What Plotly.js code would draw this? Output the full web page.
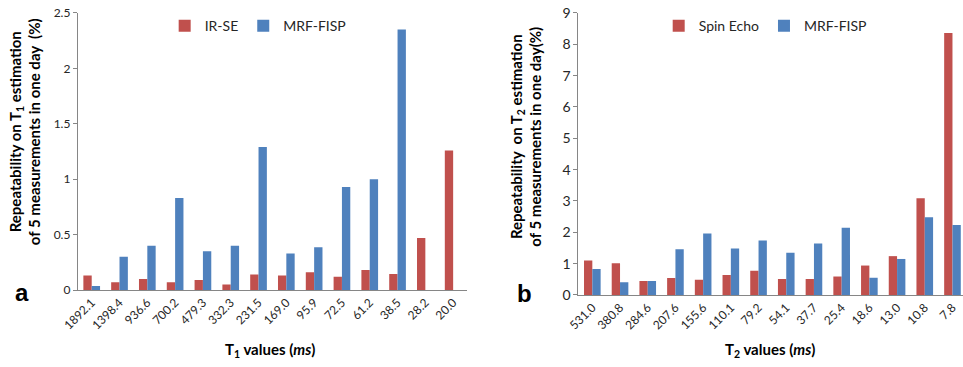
<!DOCTYPE html>
<html><head><meta charset="utf-8">
<script src="https://cdn.plot.ly/plotly-3.0.1.min.js"></script>
<style>html,body{margin:0;padding:0;background:#fff}#chart{width:963px;height:367px}</style>
</head><body><div id="chart"></div>
<script>
// Panel a: T1
const t1Labels = ["1892.1","1398.4","936.6","700.2","479.3","332.3","231.5","169.0","95.9","72.5","61.2","38.5","28.2","20.0"];
const irse = [0.13,0.07,0.10,0.07,0.09,0.05,0.14,0.13,0.16,0.12,0.18,0.145,0.47,1.26];
const mrfT1 = [0.036,0.30,0.40,0.83,0.35,0.40,1.29,0.33,0.385,0.93,1.00,2.35,0,0];
// Panel b: T2
const t2Labels = ["531.0","380.8","284.6","207.6","155.6","110.1","79.2","54.1","37.7","25.4","18.6","13.0","10.8","7.8"];
const spinEcho = [1.10,1.01,0.45,0.54,0.49,0.64,0.77,0.51,0.51,0.59,0.94,1.24,3.09,8.36];
const mrfT2 = [0.83,0.41,0.45,1.46,1.96,1.48,1.74,1.35,1.64,2.15,0.55,1.15,2.48,2.23];

const RED = "#C0504D", BLUE = "#4F81BD";
const FONT = "Lato, 'Liberation Sans', sans-serif";

const traces = [
  {type:"bar", x:t1Labels, y:irse, name:"IR-SE", marker:{color:RED}, xaxis:"x", yaxis:"y", legend:"legend"},
  {type:"bar", x:t1Labels, y:mrfT1, name:"MRF-FISP", marker:{color:BLUE}, xaxis:"x", yaxis:"y", legend:"legend"},
  {type:"bar", x:t2Labels, y:spinEcho, name:"Spin Echo", marker:{color:RED}, xaxis:"x2", yaxis:"y2", legend:"legend2"},
  {type:"bar", x:t2Labels, y:mrfT2, name:"MRF-FISP", marker:{color:BLUE}, xaxis:"x2", yaxis:"y2", legend:"legend2"}
];

const axisCommon = {showgrid:false, zeroline:false, showline:true, linecolor:"#868686", linewidth:1};
const layout = {
  width:963, height:367,
  margin:{l:0,r:0,t:0,b:0},
  paper_bgcolor:"#fff", plot_bgcolor:"#fff",
  font:{family:FONT, color:"#262626"},
  barmode:"group", bargap:0.4, bargroupgap:0,
  xaxis:Object.assign({}, axisCommon, {type:"category", domain:[0.0808,0.485], anchor:"y",
    tickangle:-45, tickfont:{size:12}, ticks:"", range:[-0.5,13.5]}),
  yaxis:Object.assign({}, axisCommon, {domain:[0.2098,0.9646], anchor:"x", range:[0,2.5], dtick:0.5,
    ticks:"outside", ticklen:4, tickcolor:"#868686", tickfont:{size:12}}),
  xaxis2:Object.assign({}, axisCommon, {type:"category", domain:[0.6007,1], anchor:"y2",
    tickangle:-45, tickfont:{size:12}, ticks:"", range:[-0.5,13.38]}),
  yaxis2:Object.assign({}, axisCommon, {domain:[0.1962,0.9646], anchor:"x2", range:[0,9], dtick:1,
    ticks:"outside", ticklen:4, tickcolor:"#868686", tickfont:{size:14}}),
  legend:{orientation:"h", x:0.171, xanchor:"left", y:0.929, yanchor:"middle", font:{size:14},
    bgcolor:"rgba(0,0,0,0)"},
  legend2:{orientation:"h", x:0.684, xanchor:"left", y:0.929, yanchor:"middle", font:{size:14},
    bgcolor:"rgba(0,0,0,0)"},
  showlegend:true,
  annotations:[
    {xref:"paper", yref:"paper", x:0.026, y:0.640, text:"<b>Repeatability on T<sub>1</sub> estimation<br>of 5 measurements in one day  (%)</b>",
     textangle:-90, showarrow:false, font:{size:15, color:"#000"}, xanchor:"center", yanchor:"middle"},
    {xref:"paper", yref:"paper", x:0.546, y:0.627, text:"<b>Repeatability  on T<sub>2</sub> estimation<br>of 5 measurements in one day(%)</b>",
     textangle:-90, showarrow:false, font:{size:15, color:"#000"}, xanchor:"center", yanchor:"middle"},
    {xref:"paper", yref:"paper", x:270/963, y:1-350/367, text:"<b>T<sub>1</sub> values (<i>ms</i>)</b>",
     showarrow:false, font:{size:15, color:"#000"}, xanchor:"center", yanchor:"middle"},
    {xref:"paper", yref:"paper", x:770/963, y:1-350/367, text:"<b>T<sub>2</sub> values (<i>ms</i>)</b>",
     showarrow:false, font:{size:15, color:"#000"}, xanchor:"center", yanchor:"middle"},
    {xref:"paper", yref:"paper", x:22/963, y:1-292/367, text:"<b>a</b>",
     showarrow:false, font:{size:24, color:"#000", family:"'Liberation Sans', Arial, sans-serif"}, xanchor:"center", yanchor:"middle"},
    {xref:"paper", yref:"paper", x:524/963, y:1-293/367, text:"<b>b</b>",
     showarrow:false, font:{size:24, color:"#000", family:"'Liberation Sans', Arial, sans-serif"}, xanchor:"center", yanchor:"middle"}
  ]
};
Plotly.newPlot("chart", traces, layout, {displayModeBar:false, staticPlot:true});
</script></body></html>
